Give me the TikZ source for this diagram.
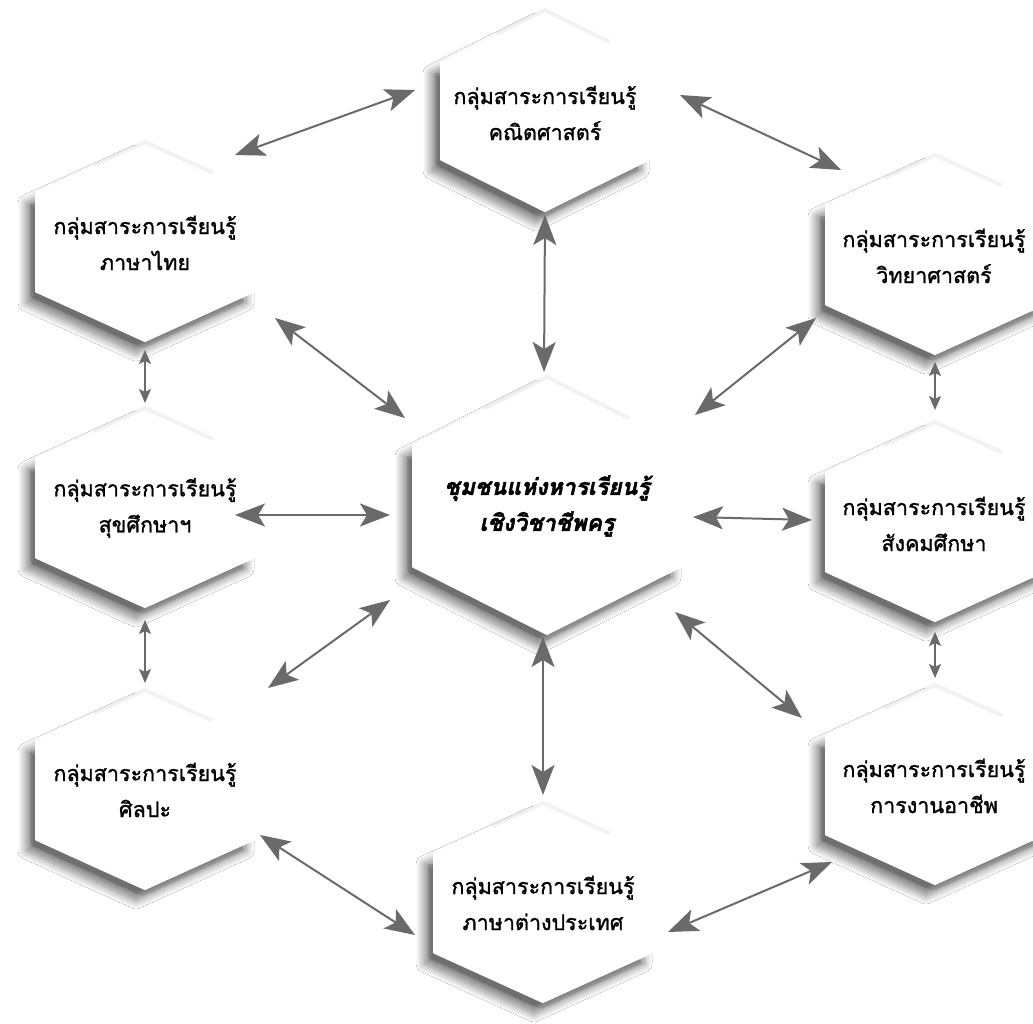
\documentclass[tikz,border=0pt]{standalone}
\usepackage{fontspec}
\newfontfamily\thaifont[Script=Thai, FakeBold=1.3]{Loma}
\newfontfamily\thaiheavy[Script=Thai, FakeBold=1.8]{Loma}
\usetikzlibrary{arrows.meta,calc,shadows.blur}
\definecolor{linkgray}{HTML}{6A6A6A}

% hexagonal cell: centre x, centre y, half width, half side, tip height
\newcommand\hexcell[5]{%
  \begin{scope}[shift={(#1,#2)}]
    \fill[white, blur shadow={shadow xshift=-9pt, shadow yshift=-11pt,
        shadow blur radius=8pt, shadow blur steps=12, shadow opacity=50}]
      (-#3,-#4) -- (-#3,#4) -- (0,#4+#5) -- (#3,#4) -- (#3,-#4) -- (0,-#4-#5) -- cycle;
    \draw[line width=6pt, opacity=0.12, line join=round, shift={(-2,3)}]
      (-#3,-#4+8) -- (-#3,#4) -- (0,#4+#5) -- (#3-10,#4+5);
    \fill[white] (-#3,-#4) -- (-#3,#4) -- (0,#4+#5) -- (#3,#4) -- (#3,-#4) -- (0,-#4-#5) -- cycle;
    \draw[gray!40, line width=4pt, opacity=0.25, line cap=round]
      (-#3*0.45,-#4-#5*0.55) -- (0,-#4-#5) -- (#3*0.6,-#4-#5*0.4);
  \end{scope}}

\tikzset{
  cell/.style={font=\thaifont\fontsize{21.5}{36}\selectfont, align=center, inner sep=0pt},
  corecell/.style={font=\thaiheavy\bfseries\itshape\fontsize{23}{36}\selectfont, align=center, inner sep=0pt},
  bighead/.tip={Stealth[length=30pt,width=23pt,inset=7pt]},
  smallhead/.tip={Stealth[length=14pt,width=12pt,inset=3pt]},
  link/.style={draw=linkgray, line width=2pt, bighead-bighead},
  shortlink/.style={draw=linkgray, line width=1.6pt, smallhead-smallhead},
}

\begin{document}
\begin{tikzpicture}[x=1pt,y=-1pt]
\useasboundingbox (0,0) rectangle (1033,1024);
\fill[white] (0,0) rectangle (1033,1024);

% cells
\hexcell{545}{111}{105}{49}{52}
\hexcell{145}{242}{110}{50}{50}
\hexcell{935}{255}{110}{50}{50}
\hexcell{145}{508}{110}{50}{50}
\hexcell{547}{506}{135}{61}{68}
\hexcell{935}{522}{110}{50}{50}
\hexcell{145}{790}{110}{50}{50}
\hexcell{935}{785}{110}{50}{50}
\hexcell{543}{903}{110}{50}{50}

\node[cell] (math) at (545,113) {กลุ่มสาระการเรียนรู้\\คณิตศาสตร์};
\node[cell] (thai) at (145,243) {กลุ่มสาระการเรียนรู้\\ภาษาไทย};
\node[cell] (sci) at (934,256) {กลุ่มสาระการเรียนรู้\\วิทยาศาสตร์};
\node[cell] (health) at (145,508) {กลุ่มสาระการเรียนรู้\\สุขศึกษาฯ};
\node[corecell] (core) at (547,506) {ชุมชนแห่งหารเรียนรู้\\เชิงวิชาชีพครู};
\node[cell] (social) at (934,524) {กลุ่มสาระการเรียนรู้\\สังคมศึกษา};
\node[cell] (arts) at (145,790) {กลุ่มสาระการเรียนรู้\\ศิลปะ};
\node[cell] (career) at (934,786) {กลุ่มสาระการเรียนรู้\\การงานอาชีพ};
\node[cell] (foreign) at (543,903) {กลุ่มสาระการเรียนรู้\\ภาษาต่างประเทศ};

% connector ends
\coordinate (thai-math) at ($(thai)+(90,-88)$);
\coordinate (math-thai) at ($(math)+(-130,-23)$);
\coordinate (math-sci) at ($(math)+(135,-18)$);
\coordinate (sci-math) at ($(sci)+(-93,-86)$);
\coordinate (math-core) at ($(math)+(0,102)$);
\coordinate (core-math) at ($(core)+(-3,-134)$);
\coordinate (thai-core) at ($(thai)+(130,75)$);
\coordinate (core-thai) at ($(core)+(-142,-88)$);
\coordinate (sci-core) at ($(sci)+(-118,62)$);
\coordinate (core-sci) at ($(core)+(148,-91)$);
\coordinate (thai-health) at ($(thai)+(0,107)$);
\coordinate (health-thai) at ($(health)+(0,-105)$);
\coordinate (sci-social) at ($(sci)+(1,106)$);
\coordinate (social-sci) at ($(social)+(1,-114)$);
\coordinate (health-core) at ($(health)+(90,7)$);
\coordinate (core-health) at ($(core)+(-157,9)$);
\coordinate (core-social) at ($(core)+(146,11)$);
\coordinate (social-core) at ($(social)+(-122,-4)$);
\coordinate (health-arts) at ($(health)+(0,112)$);
\coordinate (arts-health) at ($(arts)+(0,-107)$);
\coordinate (social-career) at ($(social)+(1,108)$);
\coordinate (career-social) at ($(career)+(1,-108)$);
\coordinate (core-arts) at ($(core)+(-157,94)$);
\coordinate (arts-core) at ($(arts)+(123,-102)$);
\coordinate (core-career) at ($(core)+(128,106)$);
\coordinate (career-core) at ($(career)+(-132,-68)$);
\coordinate (core-foreign) at ($(core)+(-4,131)$);
\coordinate (foreign-core) at ($(foreign)+(0,-108)$);
\coordinate (arts-foreign) at ($(arts)+(115,45)$);
\coordinate (foreign-arts) at ($(foreign)+(-128,32)$);
\coordinate (career-foreign) at ($(career)+(-102,76)$);
\coordinate (foreign-career) at ($(foreign)+(125,29)$);

% connectors
\draw[link] (thai-math) -- (math-thai);
\draw[link] (math-sci) -- (sci-math);
\draw[link] (math-core) -- (core-math);
\draw[link] (thai-core) -- (core-thai);
\draw[link] (sci-core) -- (core-sci);
\draw[shortlink] (thai-health) -- (health-thai);
\draw[shortlink] (sci-social) -- (social-sci);
\draw[link] (health-core) -- (core-health);
\draw[link] (core-social) -- (social-core);
\draw[shortlink] (health-arts) -- (arts-health);
\draw[shortlink] (social-career) -- (career-social);
\draw[link] (core-arts) -- (arts-core);
\draw[link] (core-career) -- (career-core);
\draw[link] (core-foreign) -- (foreign-core);
\draw[link] (arts-foreign) -- (foreign-arts);
\draw[link] (career-foreign) -- (foreign-career);
\end{tikzpicture}
\end{document}
